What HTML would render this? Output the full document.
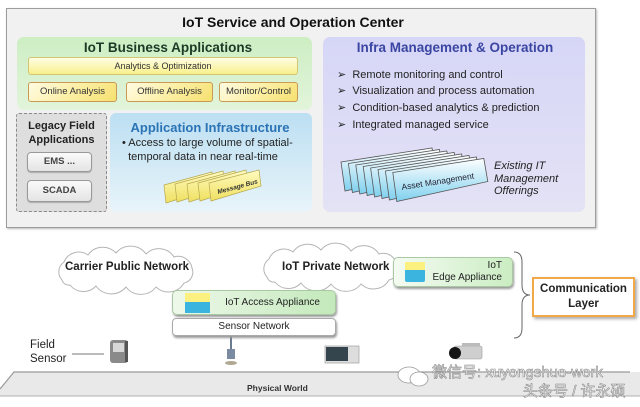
<!DOCTYPE html>
<html><head><meta charset="utf-8"><style>
*{margin:0;padding:0;box-sizing:border-box}
body{width:640px;height:407px;background:#fff;position:relative;overflow:hidden;font-family:"Liberation Sans","Noto Sans CJK SC",sans-serif;color:#222}
.a{position:absolute}
.t{position:absolute;white-space:nowrap}
.c{text-align:center}
.b{font-weight:bold}
.ybox{position:absolute;border:1px solid #c89a55;border-radius:3px;background:linear-gradient(135deg,#fffbe2 0%,#fbeea0 55%,#f6e070 100%);font-size:9.5px;text-align:center;line-height:18px;color:#333}
.btn{position:absolute;border:1px solid #9a9a9a;border-radius:4px;background:linear-gradient(#fafafa,#e4e4e4);font-size:9.5px;font-weight:bold;text-align:center;color:#444;box-shadow:0 1px 1px #aaa}
.bl{position:absolute;left:337px;font-size:11px;white-space:nowrap;color:#222}
</style></head><body>

<svg class="a" style="left:0;top:0" width="640" height="407">
  <defs>
    <path id="cloud" d="M62,280 A12,12 0 0 1 64,262 A16,16 0 0 1 88,255 A18,18 0 0 1 116,253 A19,19 0 0 1 146,254 A18,18 0 0 1 174,257 A14,14 0 0 1 192,268 A11,11 0 0 1 184,283 A18,18 0 0 1 156,287 A19,19 0 0 1 126,287 A19,19 0 0 1 96,286 A17,17 0 0 1 70,285 A7,7 0 0 1 62,280 Z"/>
  </defs>
  <polygon points="0,389 14,372 640,372 640,396 0,396" fill="#e9e9e9"/>
  <polyline points="0,389 14,372 630,372" fill="none" stroke="#9a9a9a" stroke-width="1.2"/>
  <line x1="0" y1="396" x2="640" y2="396" stroke="#b0b0b0" stroke-width="1"/>
  <use href="#cloud" fill="#fff" stroke="#b4b4b4" stroke-width="1"/>
  <use href="#cloud" transform="translate(205,-3)" fill="#fff" stroke="#b4b4b4" stroke-width="1"/>
  <path d="M514,252 Q522,252 522,262 L522,285 Q522,295 530,295 Q522,295 522,305 L522,328 Q522,338 514,338" fill="none" stroke="#666" stroke-width="1"/>
  <line x1="72" y1="354" x2="104" y2="354" stroke="#777" stroke-width="1"/>
  <!-- field sensor -->
  <rect x="110" y="340" width="18" height="23" rx="3" fill="#8a8a8a"/>
  <rect x="113" y="343" width="11" height="9" fill="#d8d8d8"/>
  <rect x="125" y="341" width="3" height="21" fill="#555"/>
  <!-- antenna -->
  <line x1="231" y1="336" x2="231" y2="350" stroke="#6a7a90" stroke-width="2"/>
  <rect x="227" y="349" width="8" height="10" fill="#7a8aa0"/>
  <ellipse cx="231" cy="363" rx="6" ry="2" fill="#b0a890"/>
  <!-- box device -->
  <rect x="325" y="346" width="34" height="17" fill="#ddd" stroke="#aaa" stroke-width="0.8"/>
  <rect x="326" y="347" width="22" height="14" fill="#34454d"/>
  <!-- camera -->
  <rect x="454" y="346" width="28" height="13" rx="2" fill="#cfcfcf" stroke="#999" stroke-width="0.6"/>
  <ellipse cx="455" cy="353" rx="6" ry="6" fill="#151515"/>
  <rect x="462" y="343" width="18" height="3" fill="#bbb"/>
</svg>

<!-- top frame -->
<div class="a" style="left:6px;top:8px;width:590px;height:220px;background:#f1f1f1;border:1px solid #9c9c9c;box-shadow:1px 1px 2px #bbb"></div>
<div class="t c b" style="left:173px;top:14px;width:240px;font-size:14px;line-height:17px;color:#111">IoT Service and Operation Center</div>

<div class="a" style="left:17px;top:37px;width:295px;height:73px;border-radius:7px;background:linear-gradient(#cdeec3,#e2f4da)"></div>
<div class="t c b" style="left:17px;top:40px;width:302px;font-size:13.5px;line-height:16px;color:#1a3a26">IoT Business Applications</div>
<div class="a" style="left:28px;top:57px;width:270px;height:18px;border:1px solid #d4c574;border-radius:3px;background:linear-gradient(#fffde4,#f8f08c);font-size:9px;line-height:16px;text-align:center;color:#333">Analytics &amp; Optimization</div>
<div class="ybox" style="left:28px;top:82px;width:89px;height:20px">Online Analysis</div>
<div class="ybox" style="left:126px;top:82px;width:87px;height:20px">Offline Analysis</div>
<div class="ybox" style="left:219px;top:82px;width:79px;height:20px">Monitor/Control</div>

<div class="a" style="left:16px;top:113px;width:91px;height:99px;border:1px dashed #8a8a8a;border-radius:3px;background:#dedede"></div>
<div class="t c b" style="left:16px;top:119px;width:91px;font-size:11px;line-height:14px;color:#222">Legacy Field<br>Applications</div>
<div class="btn" style="left:27px;top:152px;width:65px;height:20px;line-height:18px">EMS ...</div>
<div class="btn" style="left:27px;top:180px;width:65px;height:22px;line-height:20px">SCADA</div>

<div class="a" style="left:110px;top:113px;width:202px;height:99px;border-radius:6px;background:linear-gradient(#bcdff2,#e8f4fa)"></div>
<div class="t c b" style="left:110px;top:120px;width:200px;font-size:13px;line-height:16px;color:#2a73b5">Application Infrastructure</div>
<div class="t" style="left:122px;top:137px;font-size:11px;line-height:13.5px;color:#222">• Access to large volume of spatial-<br>&nbsp;&nbsp;temporal data in near real-time</div>

<div class="a" style="left:323px;top:37px;width:262px;height:175px;border-radius:7px;background:linear-gradient(#d6d6f7,#e4e2f5)"></div>
<div class="t c b" style="left:323px;top:40px;width:264px;font-size:13.5px;line-height:16px;color:#3a46a2">Infra Management &amp; Operation</div>
<div class="bl" style="top:68px">➢&nbsp;&nbsp;Remote monitoring and control</div>
<div class="bl" style="top:84px">➢&nbsp;&nbsp;Visualization and process automation</div>
<div class="bl" style="top:101px">➢&nbsp;&nbsp;Condition-based analytics &amp; prediction</div>
<div class="bl" style="top:118px">➢&nbsp;&nbsp;Integrated managed service</div>
<div class="t" style="left:494px;top:160px;font-size:11px;line-height:12.5px;font-style:italic;color:#222">Existing IT<br>Management<br>Offerings</div>

<svg class="a" style="left:0;top:0" width="640" height="407">
  <defs>
    <linearGradient id="yg" x1="0" y1="0" x2="0" y2="1"><stop offset="0" stop-color="#fffbc0"/><stop offset="1" stop-color="#efe060"/></linearGradient>
    <linearGradient id="cg" x1="0" y1="0" x2="0" y2="1"><stop offset="0" stop-color="#ffffff"/><stop offset="1" stop-color="#7fd0ee"/></linearGradient>
  </defs>
  <g stroke="#b8a850" stroke-width="0.7" fill="url(#yg)">
    <polygon points="164,185 212,172 214,188 166,203"/>
    <polygon points="175,184 223,171 225,187 177,202"/>
    <polygon points="187,184 235,171 237,187 189,202"/>
    <polygon points="198,183 246,170 248,186 200,201"/>
    <polygon points="209,183 259,170 261,186 211,201"/>
  </g>
  <text x="0" y="0" transform="translate(218,194) rotate(-15)" font-family="Liberation Sans, sans-serif" font-size="6.5" font-weight="bold" font-style="italic" fill="#333">Message Bus</text>
  <g stroke="#555" stroke-width="0.8" fill="url(#cg)">
    <polygon points="341,162 432,148 436,171 345,191"/>
    <polygon points="341,162 432,148 436,171 345,191" transform="translate(7.4,1.5)"/>
    <polygon points="341,162 432,148 436,171 345,191" transform="translate(14.8,3)"/>
    <polygon points="341,162 432,148 436,171 345,191" transform="translate(22.2,4.5)"/>
    <polygon points="341,162 432,148 436,171 345,191" transform="translate(29.6,6)"/>
    <polygon points="341,162 432,148 436,171 345,191" transform="translate(37,7.5)"/>
    <polygon points="341,162 432,148 436,171 345,191" transform="translate(44.4,9)"/>
    <polygon points="341,162 432,148 436,171 345,191" transform="translate(51.8,10.5)"/>
  </g>
  <text x="0" y="0" transform="translate(402,190) rotate(-9)" font-family="Liberation Sans, sans-serif" font-size="8.5" fill="#223">Asset Management</text>
</svg>

<!-- communication layer -->
<div class="t b" style="left:65px;top:260px;font-size:11.5px;line-height:14px;color:#222">Carrier Public Network</div>
<div class="t b" style="left:282px;top:260px;font-size:11.5px;line-height:14px;color:#222">IoT Private Network</div>

<div class="a" style="left:393px;top:257px;width:120px;height:30px;border-radius:5px;border:1px solid #a9c9a2;background:linear-gradient(to right,#f4fbf2,#cbedc3);box-shadow:1px 2px 2px #999"></div>
<div class="a" style="left:405px;top:262px;width:20px;height:8px;background:#fbf080"></div>
<div class="a" style="left:405px;top:270px;width:20px;height:12px;background:#3cb4e0;border-radius:0 0 2px 2px"></div>
<div class="t" style="left:420px;top:260px;width:82px;text-align:right;font-size:10px;line-height:12px;color:#222">IoT<br>Edge Appliance</div>

<div class="a" style="left:532px;top:277px;width:103px;height:40px;border:2px solid #f0a848;background:#fff;box-shadow:2px 2px 3px #aaa"></div>
<div class="t c b" style="left:532px;top:282px;width:103px;font-size:11.5px;line-height:14.5px;color:#222">Communication<br>Layer</div>

<div class="a" style="left:172px;top:290px;width:164px;height:25px;border-radius:5px;border:1px solid #a9c9a2;background:linear-gradient(to right,#eef8ea,#c3e9bb);box-shadow:1px 2px 2px #999"></div>
<div class="a" style="left:185px;top:293px;width:25px;height:9px;background:#fbf080"></div>
<div class="a" style="left:185px;top:302px;width:25px;height:11px;background:#3cb4e0"></div>
<div class="t c" style="left:215px;top:297px;width:115px;font-size:10px;line-height:12px;color:#222">IoT Access Appliance</div>

<div class="a" style="left:172px;top:318px;width:164px;height:18px;border-radius:4px;border:1px solid #aaa;background:#fff;box-shadow:1px 2px 2px #999;font-size:10px;line-height:16px;text-align:center;color:#222">Sensor Network</div>

<div class="t" style="left:30px;top:338px;font-size:11.5px;line-height:14px;color:#222">Field<br>Sensor</div>
<div class="t b" style="left:247px;top:383px;font-size:8.5px;line-height:10px;color:#333">Physical World</div>

<!-- watermark -->
<svg class="a" style="left:396px;top:366px" width="36" height="22">
  <ellipse cx="13" cy="9" rx="11" ry="8" fill="#fff" stroke="#999" stroke-width="0.8"/>
  <ellipse cx="23" cy="13" rx="9" ry="7" fill="#fff" stroke="#999" stroke-width="0.8"/>
</svg>
<div class="t" style="left:432px;top:364px;font-size:15px;line-height:18px;color:#fff;-webkit-text-stroke:0.6px #8a8a8a">微信号: xuyongshuo-work</div>
<div class="t" style="left:523px;top:383px;font-size:15px;line-height:18px;color:#fff;-webkit-text-stroke:0.6px #8a8a8a">头条号 / 许永硕</div>

</body></html>
